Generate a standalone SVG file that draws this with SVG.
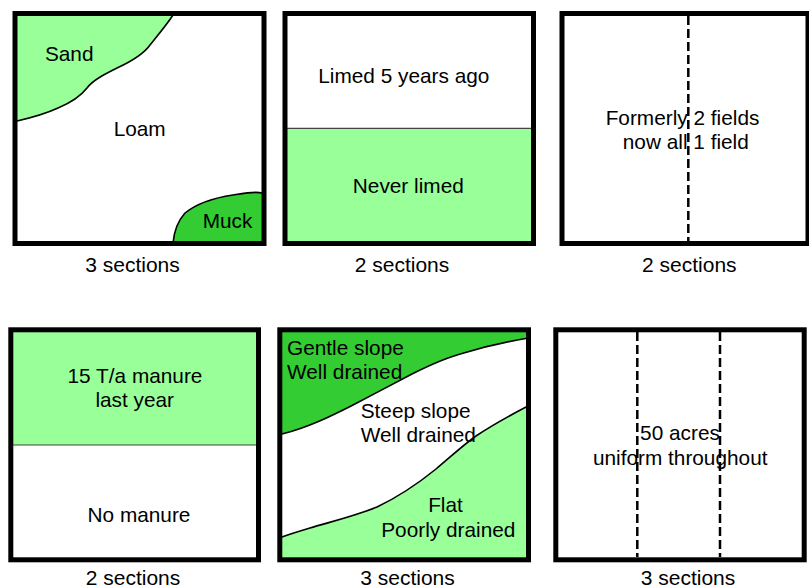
<svg xmlns="http://www.w3.org/2000/svg" width="809" height="588" viewBox="0 0 809 588">
<style>
.box{fill:none;stroke:#000;stroke-width:5}
.bg{fill:#fff}
.lt{fill:#99ff99}
.dk{fill:#33cc33}
.curve{fill:none;stroke:#000;stroke-width:1.6}
.div{stroke:#444;stroke-width:1.2}
.dash{stroke:#000;stroke-width:2.5;stroke-dasharray:9 4}
text{font-family:"Liberation Sans",Arial,sans-serif;font-size:20.8px;fill:#000}
.c{text-anchor:middle}
.lbl{font-size:21px;text-anchor:middle}
</style>
<rect width="809" height="588" fill="#fff"/>
<g id="field1">
<rect class="bg" x="15" y="13.5" width="249" height="230"/>
<path class="lt" d="M15,13.5 L173,13.5 L173,15 C168,23 158,35 150,45 C143,55 130,62 117,68 C105,74 93,80 87,88 C80,97 70,103 58,108 C45,114 30,118 17,121 L15,121 Z"/>
<path class="curve" d="M173,15 C168,23 158,35 150,45 C143,55 130,62 117,68 C105,74 93,80 87,88 C80,97 70,103 58,108 C45,114 30,118 17,121"/>
<path class="dk" d="M173,243 C174,232 177,222 185,213 C195,205 213,198 233,195 C245,193 255,191 262,193 L264,193 L264,243 Z"/>
<path class="curve" d="M173,243 C174,232 177,222 185,213 C195,205 213,198 233,195 C245,193 255,191 262,193"/>
<rect class="box" x="15" y="13.5" width="249" height="230"/>
<text class="c" x="69.2" y="61">Sand</text>
<text class="c" x="139.7" y="136">Loam</text>
<text class="c" x="227.5" y="228.3">Muck</text>
<text class="lbl" x="132.5" y="271.5">3 sections</text>
</g>
<g id="field2">
<rect class="bg" x="285" y="13.5" width="248.5" height="230"/>
<rect class="lt" x="285" y="128.3" width="248.5" height="115.2"/>
<line class="div" x1="287" y1="128.3" x2="531" y2="128.3"/>
<rect class="box" x="285" y="13.5" width="248.5" height="230"/>
<text class="c" x="403.8" y="82.5">Limed 5 years ago</text>
<text class="c" x="408.3" y="193.3">Never limed</text>
<text class="lbl" x="402" y="271.5">2 sections</text>
</g>
<g id="field3">
<rect class="bg" x="562" y="13.5" width="246" height="230"/>
<line class="dash" x1="688.3" y1="16" x2="688.3" y2="241"/>
<rect class="box" x="562" y="13.5" width="246" height="230"/>
<text class="c" x="682.5" y="124.5">Formerly 2 fields</text>
<text class="c" x="685.8" y="148.5">now all 1 field</text>
<text class="lbl" x="689.3" y="271.5">2 sections</text>
</g>
<g id="field4">
<rect class="bg" x="10.8" y="329.8" width="247.7" height="230"/>
<rect class="lt" x="10.8" y="329.8" width="247.7" height="115.2"/>
<line class="div" x1="13" y1="445" x2="256.5" y2="445"/>
<rect class="box" x="10.8" y="329.8" width="247.7" height="230"/>
<text class="c" x="135" y="383.3">15 T/a manure</text>
<text class="c" x="134.7" y="407">last year</text>
<text class="c" x="139" y="522.3">No manure</text>
<text class="lbl" x="133" y="584.5">2 sections</text>
</g>
<g id="field5">
<rect class="bg" x="279.8" y="329.8" width="248.7" height="230"/>
<path class="dk" d="M280,330 L528,330 L528,338.3 L527,338.3 C505,342 480,348 462,353.5 C445,358 430,365 412,374 C395,383 372,395 353,405 C335,414 310,427 282,434 L280,434 Z"/>
<path class="curve" d="M527,338.3 C505,342 480,348 462,353.5 C445,358 430,365 412,374 C395,383 372,395 353,405 C335,414 310,427 282,434"/>
<path class="lt" d="M528,406.5 L527,406.5 C505,418 488,428 476,436 C462,446 448,459 436,469 C420,482 400,496 377,507 C355,516 330,522 310,528 C300,531 290,534 282,537 L280,537 L280,560 L528,560 Z"/>
<path class="curve" d="M527,406.5 C505,418 488,428 476,436 C462,446 448,459 436,469 C420,482 400,496 377,507 C355,516 330,522 310,528 C300,531 290,534 282,537"/>
<rect class="box" x="279.8" y="329.8" width="248.7" height="230"/>
<text x="287" y="355">Gentle slope</text>
<text x="287" y="379.3">Well drained</text>
<text x="360.7" y="418.3">Steep slope</text>
<text x="360.7" y="441.7">Well drained</text>
<text class="c" x="445.5" y="512.3">Flat</text>
<text class="c" x="448.3" y="536.7">Poorly drained</text>
<text class="lbl" x="407.5" y="584.5">3 sections</text>
</g>
<g id="field6">
<rect class="bg" x="555.8" y="329.8" width="248.4" height="230"/>
<line class="dash" x1="637.3" y1="332" x2="637.3" y2="557"/>
<line class="dash" x1="720" y1="332" x2="720" y2="557"/>
<rect class="box" x="555.8" y="329.8" width="248.4" height="230"/>
<text class="c" x="680" y="440">50 acres</text>
<text class="c" x="680.2" y="465">uniform throughout</text>
<text class="lbl" x="688" y="584.5">3 sections</text>
</g>
<g id="connectors"/>
</svg>
